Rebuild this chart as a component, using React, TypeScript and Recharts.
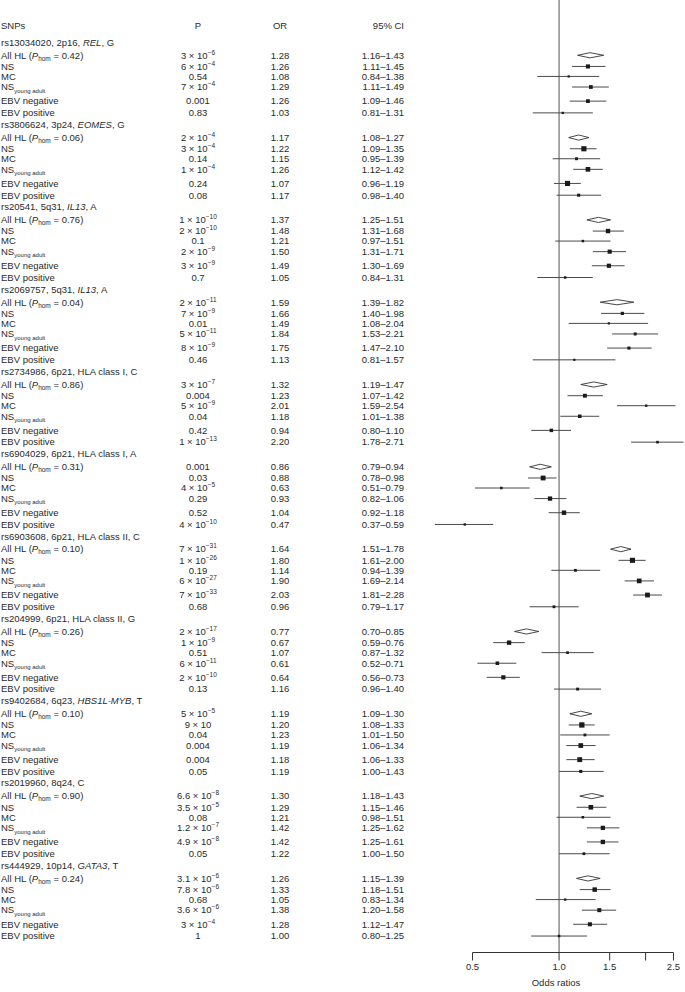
import React from 'react';
import { ScatterChart, Scatter, XAxis, YAxis, ErrorBar, ReferenceLine } from 'recharts';

// one entry per SNP block
const SNPS = ['rs13034020', 'rs3806624', 'rs20541', 'rs2069757', 'rs2734986', 'rs6904029', 'rs6903608', 'rs204999', 'rs9402684', 'rs2019960', 'rs444929'];
const LOCI = ['2p16', '3p24', '5q31', '5q31', '6p21', '6p21', '6p21', '6p21', '6q23', '8q24', '10p14'];
const GENES = ['REL', 'EOMES', 'IL13', 'IL13', 'HLA class I', 'HLA class I', 'HLA class II', 'HLA class II', 'HBS1L-MYB', '', 'GATA3'];
const GENE_ITALIC = [true, true, true, true, false, false, false, false, true, false, true];
const ALLELES = ['G', 'G', 'A', 'A', 'C', 'A', 'C', 'G', 'T', 'C', 'T'];
const P_HOM = ['0.42', '0.06', '0.76', '0.04', '0.86', '0.31', '0.10', '0.26', '0.10', '0.90', '0.24'];

const SUBGROUPS = ['All HL', 'NS', 'MC', 'NS young adult', 'EBV negative', 'EBV positive'];

const P_VALUES = [
  ['3 × 10^−6', '6 × 10^−4', '0.54', '7 × 10^−4', '0.001', '0.83'],
  ['2 × 10^−4', '3 × 10^−4', '0.14', '1 × 10^−4', '0.24', '0.08'],
  ['1 × 10^−10', '2 × 10^−10', '0.1', '2 × 10^−9', '3 × 10^−9', '0.7'],
  ['2 × 10^−11', '7 × 10^−9', '0.01', '5 × 10^−11', '8 × 10^−9', '0.46'],
  ['3 × 10^−7', '0.004', '5 × 10^−9', '0.04', '0.42', '1 × 10^−13'],
  ['0.001', '0.03', '4 × 10^−5', '0.29', '0.52', '4 × 10^−10'],
  ['7 × 10^−31', '1 × 10^−26', '0.19', '6 × 10^−27', '7 × 10^−33', '0.68'],
  ['2 × 10^−17', '1 × 10^−9', '0.51', '6 × 10^−11', '2 × 10^−10', '0.13'],
  ['5 × 10^−5', '9 × 10', '0.04', '0.004', '0.004', '0.05'],
  ['6.6 × 10^−8', '3.5 × 10^−5', '0.08', '1.2 × 10^−7', '4.9 × 10^−8', '0.05'],
  ['3.1 × 10^−6', '7.8 × 10^−6', '0.68', '3.6 × 10^−6', '3 × 10^−4', '1'],
];

const ODDS = [
  [1.28, 1.26, 1.08, 1.29, 1.26, 1.03],
  [1.17, 1.22, 1.15, 1.26, 1.07, 1.17],
  [1.37, 1.48, 1.21, 1.5, 1.49, 1.05],
  [1.59, 1.66, 1.49, 1.84, 1.75, 1.13],
  [1.32, 1.23, 2.01, 1.18, 0.94, 2.2],
  [0.86, 0.88, 0.63, 0.93, 1.04, 0.47],
  [1.64, 1.8, 1.14, 1.9, 2.03, 0.96],
  [0.77, 0.67, 1.07, 0.61, 0.64, 1.16],
  [1.19, 1.2, 1.23, 1.19, 1.18, 1.19],
  [1.3, 1.29, 1.21, 1.42, 1.42, 1.22],
  [1.26, 1.33, 1.05, 1.38, 1.28, 1.0],
];

const CI_LOW = [
  [1.16, 1.11, 0.84, 1.11, 1.09, 0.81],
  [1.08, 1.09, 0.95, 1.12, 0.96, 0.98],
  [1.25, 1.31, 0.97, 1.31, 1.3, 0.84],
  [1.39, 1.4, 1.08, 1.53, 1.47, 0.81],
  [1.19, 1.07, 1.59, 1.01, 0.8, 1.78],
  [0.79, 0.78, 0.51, 0.82, 0.92, 0.37],
  [1.51, 1.61, 0.94, 1.69, 1.81, 0.79],
  [0.7, 0.59, 0.87, 0.52, 0.56, 0.96],
  [1.09, 1.08, 1.01, 1.06, 1.06, 1.0],
  [1.18, 1.15, 0.98, 1.25, 1.25, 1.0],
  [1.15, 1.18, 0.83, 1.2, 1.12, 0.8],
];

const CI_HIGH = [
  [1.43, 1.45, 1.38, 1.49, 1.46, 1.31],
  [1.27, 1.35, 1.39, 1.42, 1.19, 1.4],
  [1.51, 1.68, 1.51, 1.71, 1.69, 1.31],
  [1.82, 1.98, 2.04, 2.21, 2.1, 1.57],
  [1.47, 1.42, 2.54, 1.38, 1.1, 2.71],
  [0.94, 0.98, 0.79, 1.06, 1.18, 0.59],
  [1.78, 2.0, 1.39, 2.14, 2.28, 1.17],
  [0.85, 0.76, 1.32, 0.71, 0.73, 1.4],
  [1.3, 1.33, 1.5, 1.34, 1.33, 1.43],
  [1.43, 1.46, 1.51, 1.62, 1.61, 1.5],
  [1.39, 1.51, 1.34, 1.58, 1.47, 1.25],
];

const X_TICKS = [0.5, 1, 1.5, 2, 2.5];
const X_TICK_LABELS = ['0.5', '1.0', '1.5', '', '2.5'];

// layout (row units on the y axis)
const Y_DOMAIN: [number, number] = [-2.15, 78.85];
const GROUP_START = 1.45;
const GROUP_STEP = 7;
const ROW_OFFSETS = [1.1, 2.05, 2.9, 3.8, 5.0, 6.0];
const DIAMOND_HALF = 0.22;

const FONT = '"Liberation Sans", Arial, Helvetica, sans-serif';
const TXT = '#2a2a2a';
const FS = 9.5;

const fmt = (n: number) => n.toFixed(2);
const key = (v: number) => v.toFixed(3);

const groupPos = (g: number) => GROUP_START + g * GROUP_STEP;

type Row = { kind: 'header' | 'title' | 'row'; g: number; r: number; pos: number };
const ROWS: Row[] = [{ kind: 'header', g: -1, r: -1, pos: 0 }];
SNPS.forEach((_, g) => {
  ROWS.push({ kind: 'title', g, r: -1, pos: groupPos(g) });
  SUBGROUPS.forEach((_, r) => ROWS.push({ kind: 'row', g, r, pos: groupPos(g) + ROW_OFFSETS[r] }));
});
const ROW_BY_POS = new Map(ROWS.map((row) => [key(row.pos), row]));
const Y_TICKS = ROWS.map((row) => row.pos);

// subgroup estimates (squares + CI lines)
const squares = SNPS.flatMap((_, g) =>
  SUBGROUPS.slice(1).map((_, i) => {
    const r = i + 1;
    const or = ODDS[g][r];
    return {
      or,
      y: groupPos(g) + ROW_OFFSETS[r],
      err: [or - CI_LOW[g][r], CI_HIGH[g][r] - or],
      lo: CI_LOW[g][r],
      hi: CI_HIGH[g][r],
    };
  })
);

// All HL summary diamonds: lo -> top -> hi -> bottom -> lo
const diamonds = SNPS.map((_, g) => {
  const y = groupPos(g) + ROW_OFFSETS[0];
  const or = ODDS[g][0];
  return [
    { or: CI_LOW[g][0], y },
    { or, y: y - DIAMOND_HALF },
    { or: CI_HIGH[g][0], y },
    { or, y: y + DIAMOND_HALF },
    { or: CI_LOW[g][0], y },
  ];
});

const Square = (p: any) => {
  const w = Math.log(p.payload.hi / p.payload.lo);
  const s = Math.max(2.2, Math.min(5.5, 1.1 / w));
  return <rect x={p.cx - s / 2} y={p.cy - s / 2} width={s} height={s} fill="#1a1a1a" />;
};

const NoShape = () => <g />;

function PValue({ text }: { text: string }) {
  const [base, exp] = text.split('^');
  return (
    <>
      <tspan>{base}</tspan>
      {exp && (
        <tspan fontSize={6.5} dy={-4}>
          {exp}
        </tspan>
      )}
    </>
  );
}

function TableTick({ y, payload }: any) {
  const row = ROW_BY_POS.get(key(payload.value));
  if (!row) return null;
  const common = { fontSize: FS, fill: TXT, fontFamily: FONT, dy: '0.35em' } as any;
  if (row.kind === 'header') {
    return (
      <g>
        <text x={1} y={y} {...common}>SNPs</text>
        <text x={198} y={y} textAnchor="middle" {...common}>P</text>
        <text x={280} y={y} textAnchor="middle" {...common}>OR</text>
        <text x={404} y={y} textAnchor="end" {...common}>95% CI</text>
      </g>
    );
  }
  if (row.kind === 'title') {
    const g = row.g;
    return (
      <text x={1} y={y} {...common}>
        <tspan>{SNPS[g]}, {LOCI[g]}, </tspan>
        {GENES[g] && (
          <>
            <tspan fontStyle={GENE_ITALIC[g] ? 'italic' : 'normal'}>{GENES[g]}</tspan>
            <tspan>, </tspan>
          </>
        )}
        <tspan>{ALLELES[g]}</tspan>
      </text>
    );
  }
  const { g, r } = row;
  let label: React.ReactNode = SUBGROUPS[r];
  if (r === 0) {
    label = (
      <>
        <tspan>All HL (</tspan>
        <tspan fontStyle="italic">P</tspan>
        <tspan fontSize={6.5} dy={2}>hom</tspan>
        <tspan dy={-2}> = {P_HOM[g]})</tspan>
      </>
    );
  } else if (r === 3) {
    label = (
      <>
        <tspan>NS</tspan>
        <tspan fontSize={6} dy={2.5}>young adult</tspan>
      </>
    );
  }
  return (
    <g>
      <text x={1} y={y} {...common}>{label}</text>
      <text x={198} y={y} textAnchor="middle" {...common}>
        <PValue text={P_VALUES[g][r]} />
      </text>
      <text x={280} y={y} textAnchor="middle" {...common}>{fmt(ODDS[g][r])}</text>
      <text x={404} y={y} textAnchor="end" {...common}>
        {fmt(CI_LOW[g][r])}–{fmt(CI_HIGH[g][r])}
      </text>
    </g>
  );
}

function OddsTick({ x, y, payload, index }: any) {
  return (
    <text x={x} y={y} dy="0.71em" textAnchor="middle" fontSize={FS} fill={TXT} fontFamily={FONT}>
      {X_TICK_LABELS[index] ?? payload.value}
    </text>
  );
}

export default function App() {
  return (
    <div style={{ position: 'absolute', left: 0, top: 0, background: '#fff' }}>
      <ScatterChart width={685} height={992} margin={{ top: 0, right: 1, bottom: 0, left: 0 }}>
        <XAxis
          type="number"
          dataKey="or"
          scale="log"
          domain={[0.35, 2.72]}
          allowDataOverflow
          ticks={X_TICKS}
          interval={0}
          axisLine={false}
          tickLine={{ stroke: '#333', strokeWidth: 1 }}
          tickSize={8}
          tickMargin={3}
          height={39.5}
          tick={<OddsTick />}
          label={{ value: 'Odds ratios', position: 'insideBottom', offset: 6, fontSize: FS, fill: TXT, fontFamily: FONT }}
        />
        <YAxis
          type="number"
          dataKey="y"
          domain={Y_DOMAIN}
          reversed
          allowDataOverflow
          ticks={Y_TICKS}
          interval={0}
          width={428}
          axisLine={false}
          tickLine={false}
          tick={<TableTick />}
        />
        <ReferenceLine x={1} stroke="#7a7a7a" strokeWidth={1.3} />
        <ReferenceLine
          segment={[
            { x: 0.5, y: Y_DOMAIN[1] },
            { x: 2.5, y: Y_DOMAIN[1] },
          ]}
          stroke="#333"
          strokeWidth={1}
        />
        <Scatter data={squares} shape={<Square />} isAnimationActive={false}>
          <ErrorBar dataKey="err" direction="x" width={0} stroke="#4a4a4a" strokeWidth={1} />
        </Scatter>
        {diamonds.map((d, i) => (
          <Scatter
            key={i}
            data={d}
            shape={<NoShape />}
            line={{ stroke: '#333', strokeWidth: 0.9, fill: 'none' }}
            lineJointType="linear"
            isAnimationActive={false}
          />
        ))}
      </ScatterChart>
    </div>
  );
}
